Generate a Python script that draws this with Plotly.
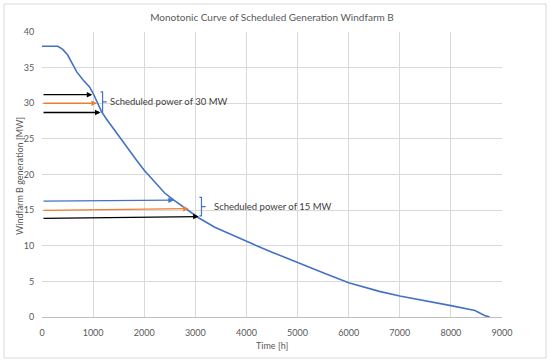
import plotly.graph_objects as go

# Monotonic (duration) curve
hours = [0, 150, 310, 400, 500, 590, 680, 800, 930, 1000, 1090, 1160, 1250, 1330, 1480, 1670,
         1850, 2000, 2215, 2400, 2580, 2830, 3070, 3380, 3870, 4200, 4500, 5000, 5500,
         6000, 6600, 7000, 7500, 8000, 8470, 8660, 8760]
power = [38, 38, 38, 37.6, 36.8, 35.6, 34.4, 33.3, 32.3, 31.4, 30.0, 28.9, 27.9, 27.1, 25.6, 23.7,
         22.0, 20.6, 18.8, 17.4, 16.4, 15.1, 13.9, 12.6, 11.0, 10.0, 9.1, 7.6, 6.2,
         4.8, 3.6, 2.95, 2.3, 1.6, 0.9, 0.2, 0.0]

# Arrows: (start MW, end hour, end MW, colour)
arrows_30 = [(31.2, 985, 31.2, "black"), (30.0, 1075, 30.0, "#ED7D31"),
             (28.7, 1145, 28.7, "black")]
arrows_15 = [(16.25, 2580, 16.4, "#4472C4"), (14.95, 2870, 15.2, "#ED7D31"),
             (13.85, 3065, 14.1, "black")]

# Brackets: (x hour, bottom MW, top MW, label x hour, label)
brackets = [(1185, 28.8, 31.6, 1295, "Scheduled power of 30 MW"),
            (3120, 14.2, 16.8, 3330, "Scheduled power of 15 MW")]

x_ticks = list(range(0, 9001, 1000))
y_ticks = list(range(0, 41, 5))

BLUE = "#4472C4"
GRAY = "#595959"
FONT = "Lato"

fig = go.Figure()
fig.add_trace(go.Scatter(x=hours, y=power, mode="lines",
                         line=dict(color=BLUE, width=1.6), showlegend=False,
                         hoverinfo="skip"))

annotations = []
for group in (arrows_30, arrows_15):
    for y0, xe, ye, col in group:
        annotations.append(dict(x=xe, y=ye, ax=0, ay=y0, xref="x", yref="y",
                                axref="x", ayref="y", text="", showarrow=True,
                                arrowhead=2, arrowsize=0.85, arrowwidth=1.3,
                                arrowcolor=col, standoff=0))

shapes = []
for xb, yb, yt, xl, label in brackets:
    d = 40
    mid = (yb + yt) / 2
    shapes.append(dict(type="path", xref="x", yref="y",
                       path=f"M {xb-d},{yt} L {xb},{yt} L {xb},{yb} L {xb-d},{yb} "
                            f"M {xb},{mid} L {xb+d*2},{mid}",
                       line=dict(color=BLUE, width=1.2)))
    annotations.append(dict(x=xl, y=mid, xref="x", yref="y", text=label,
                            showarrow=False, xanchor="left", yanchor="middle",
                            font=dict(family=FONT, size=9.5, color="#404040")))

# pixel layout helpers
L, R, T, B = 42, 48, 32, 45
W, H = 550, 362
pw, ph = W - L - R, H - T - B
def px(xp):
    return (xp - L) / pw
def py(yp):
    return (H - B - yp) / ph

# axis titles
annotations.append(dict(x=0.5, y=py(345), xref="paper", yref="paper", text="Time [h]",
                        showarrow=False, xanchor="center", yanchor="middle",
                        font=dict(family=FONT, size=9, color=GRAY)))
annotations.append(dict(x=px(19), y=py(176), xref="paper", yref="paper",
                        text="Windfarm B generation [MW]", textangle=-90,
                        showarrow=False, xanchor="center", yanchor="middle",
                        font=dict(family=FONT, size=9, color=GRAY)))

# outer chart border
shapes.append(dict(type="rect", xref="paper", yref="paper",
                   x0=px(4), x1=px(546), y0=py(358), y1=py(4),
                   line=dict(color="#d9d9d9", width=1), layer="below"))

fig.update_layout(
    width=W, height=H, margin=dict(l=L, r=R, t=T, b=B),
    paper_bgcolor="white", plot_bgcolor="white",
    title=dict(text="Monotonic Curve of Scheduled Generation Windfarm B",
               x=0.5, xref="paper", xanchor="center", y=1 - 17 / H, yanchor="middle",
               font=dict(family=FONT, size=10, color=GRAY)),
    font=dict(family=FONT, size=9, color=GRAY),
    annotations=annotations, shapes=shapes,
)
fig.update_xaxes(range=[0, 9000], tickvals=x_ticks, showgrid=True, gridcolor="#d9d9d9",
                 gridwidth=1, zeroline=False, showline=True, linecolor="#bfbfbf",
                 ticks="outside", ticklen=7, tickcolor="rgba(0,0,0,0)", automargin=False,
                 tickfont=dict(family=FONT, size=9, color=GRAY))
fig.update_yaxes(range=[0, 40], tickvals=y_ticks, showgrid=True, gridcolor="#d9d9d9",
                 gridwidth=1, zeroline=False, showline=False, automargin=False,
                 ticks="outside", ticklen=5, tickcolor="rgba(0,0,0,0)",
                 tickfont=dict(family=FONT, size=9, color=GRAY))

fig.write_html("out.html", config={"displayModeBar": False},
               post_script="document.body.style.margin='0';")
